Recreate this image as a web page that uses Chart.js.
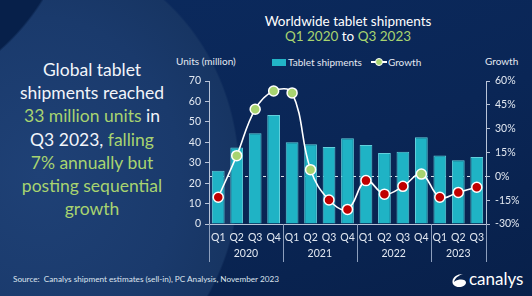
<!DOCTYPE html>
<html>
<head>
<meta charset="utf-8">
<script src="https://cdn.jsdelivr.net/npm/chart.js@4/dist/chart.umd.min.js"></script>
<style>
  html, body { margin: 0; padding: 0; }
  body { width: 532px; height: 296px; overflow: hidden; font-family: Lato, 'Open Sans', sans-serif; }
  #wrap {
    position: relative; width: 532px; height: 296px; overflow: hidden;
    background:
      radial-gradient(circle 228px at -150px -120px, #07204a 99%, transparent 100%),
      radial-gradient(ellipse 200px 225px at 40px 175px, #1f4176 0%, #1a3a6c 70%, #173563 99%, transparent 100%),
      linear-gradient(160deg, #0b2a5e 0%, #0a2656 55%, #08204a 100%);
  }
  canvas { position: absolute; left: 0; top: 0; }
  .t { position: absolute; white-space: nowrap; color: #fff; }
  .g { color: #a8d470; }
  #blurb { left: 0; width: 184px; top: 58px; text-align: center; font-size: 17.5px; line-height: 23.2px; color: #f2f5fa; }
  #title { left: 248px; width: 200px; top: 14px; text-align: center; font-size: 13.5px; line-height: 15px; }
  #units { left: 176px; top: 55px; font-size: 10px; color: #e4e9f2; }
  #growthLbl { left: 485px; top: 55px; font-size: 10px; color: #e4e9f2; }
  #legend { left: 272px; top: 55px; font-size: 10px; color: #e4e9f2; }
  #legend span { display: inline-block; vertical-align: middle; }
  .box { width: 14px; height: 7px; background: #22b4c6; margin-right: 2px; }
  .lm { position: relative; width: 16px; height: 10px; margin-left: 9px; margin-right: 1px; }
  .lm i { position: absolute; left: 0; top: 4px; width: 16px; height: 1.5px; background: #fff; }
  .lm b { position: absolute; left: 4px; top: 1px; width: 6px; height: 6px; border-radius: 50%; background: #a8d470; border: 1.5px solid #fff; }
  #source { left: 13px; top: 274px; font-size: 8.2px; color: #dde4ee; }
  #logo { left: 452px; top: 268px; font-size: 17px; color: #fff; }
  #logo svg { vertical-align: -2px; margin-right: 3px; }
</style>
</head>
<body>
<div id="wrap">
  <div class="t" id="blurb">Global tablet<br>shipments reached<br><span class="g">33 million units</span> in<br>Q3 2023, <span class="g">falling</span><br><span class="g">7% annually but</span><br><span class="g">posting sequential</span><br><span class="g">growth</span></div>
  <div class="t" id="title">Worldwide tablet shipments<br><span class="g">Q1 2020</span> to <span class="g">Q3 2023</span></div>
  <div class="t" id="units">Units (million)</div>
  <div class="t" id="legend"><span class="box"></span><span>Tablet shipments</span><span class="lm"><i></i><b></b></span><span>Growth</span></div>
  <div class="t" id="growthLbl">Growth</div>
  <div class="t" id="source">Source:&nbsp; Canalys shipment estimates (sell-in), PC Analysis, November 2023</div>
  <div class="t" id="logo"><svg width="14" height="13" viewBox="0 0 14 13"><path d="M11 0 C5 0 1 3 0.5 7 C0 10.5 3 13 7 13 C11 13 14 11 14 8.5 C14 6 11 5 7.5 5.5 C5 6 3 7 2 8 C3 4 6.5 1.5 11 0 Z" fill="#fff"/></svg>canalys</div>
  <canvas id="chart" width="532" height="296"></canvas>
</div>
<script>
const quarters = ['Q1','Q2','Q3','Q4','Q1','Q2','Q3','Q4','Q1','Q2','Q3','Q4','Q1','Q2','Q3'];
const years = ['2020','2020','2020','2020','2021','2021','2021','2021','2022','2022','2022','2022','2023','2023','2023'];
const shipments = [26.1, 37.4, 44.4, 53.3, 40.0, 39.0, 37.7, 42.0, 38.7, 34.8, 35.4, 42.5, 33.5, 31.2, 32.8];
const growth = [-13.2, 13.0, 42.2, 53.7, 52.5, 4.2, -14.9, -20.8, -2.7, -11.2, -6.3, 1.4, -13.2, -10.1, -6.9];
const unitTicks = [0, 70, 10];
const growthTicks = [-30, 60, 15];

// year groups: first index and last index of each year
const yearGroups = [];
years.forEach((y, i) => {
    const last = yearGroups[yearGroups.length - 1];
    if (last && last.year === y) last.end = i;
    else yearGroups.push({ year: y, start: i, end: i });
});

const axisColor = '#b9c4d8';
const tickFont = { family: 'Lato, "Open Sans", sans-serif', size: 10.5 };
const tickColor = '#e2e8f1';

// vertical lines between the year groups
const separators = {
    id: 'separators',
    afterDraw(chart) {
        const x = chart.scales.x;
        const x2 = chart.scales.x2;
        const c = chart.ctx;
        c.save();
        c.strokeStyle = '#8d9fbd';
        c.lineWidth = 1;
        const bounds = yearGroups.map(g => g.start - 0.5).concat([years.length - 0.5]);
        bounds.forEach(v => {
            const px = Math.round(x.getPixelForValue(v)) + 0.5;
            c.beginPath();
            c.moveTo(px, x.top);
            c.lineTo(px, x2.bottom - 4);
            c.stroke();
        });
        c.restore();
    }
};

function fixWidth(w) {
    return s => { s.width = w; s.paddingTop = 0; s.paddingBottom = 0; };
}
function fixHeight(h) {
    return s => { s.height = h; s.paddingLeft = 0; s.paddingRight = 0; };
}

new Chart(document.getElementById('chart').getContext('2d'), {
    type: 'bar',
    data: {
        labels: quarters,
        datasets: [{
            type: 'line',
            label: 'Growth',
            data: growth,
            yAxisID: 'y1',
            borderColor: '#ffffff',
            borderWidth: 1.6,
            tension: 0.4,
            pointRadius: 5,
            pointBorderWidth: 1.5,
            pointBorderColor: '#ffffff',
            pointBackgroundColor: growth.map(v => v < 0 ? '#c00000' : '#a8d470'),
            order: 0
        }, {
            label: 'Tablet shipments',
            data: shipments,
            yAxisID: 'y',
            backgroundColor: '#1fb3c5',
            borderColor: '#62cfdc',
            borderWidth: 1,
            categoryPercentage: 0.69,
            barPercentage: 1,
            order: 1
        }]
    },
    options: {
        responsive: false,
        animation: false,
        layout: { padding: { left: 180, right: 10, top: 81, bottom: 30 } },
        plugins: { legend: { display: false }, tooltip: { enabled: false } },
        scales: {
            x: {
                weight: 0,
                afterFit: fixHeight(22),
                grid: { display: false, drawTicks: false },
                border: { display: true, color: axisColor, width: 1 },
                ticks: { color: tickColor, font: tickFont, padding: 7, maxRotation: 0, autoSkip: false }
            },
            x2: {
                type: 'linear',
                position: 'bottom',
                weight: 1,
                offset: false,
                min: -0.5,
                max: years.length - 0.5,
                afterFit: fixHeight(20),
                afterBuildTicks: s => { s.ticks = yearGroups.map(g => ({ value: (g.start + g.end) / 2 })); },
                grid: { display: false, drawTicks: false, offset: false },
                border: { display: false },
                ticks: {
                    color: tickColor, font: tickFont, padding: 1, maxRotation: 0, autoSkip: false,
                    callback: (v) => (yearGroups.find(g => (g.start + g.end) / 2 === v) || {}).year
                }
            },
            y: {
                position: 'left',
                min: unitTicks[0], max: unitTicks[1],
                afterFit: fixWidth(29),
                grid: { drawOnChartArea: false, color: axisColor, tickLength: 4 },
                border: { color: axisColor },
                ticks: { stepSize: unitTicks[2], color: tickColor, font: tickFont, padding: 4 }
            },
            y1: {
                position: 'right',
                min: growthTicks[0], max: growthTicks[1],
                afterFit: fixWidth(36),
                grid: {
                    color: c => c.tick && c.tick.value === 0 ? 'rgba(255,255,255,0.85)' : 'rgba(0,0,0,0)',
                    tickColor: axisColor,
                    tickLength: 4,
                    lineWidth: 1
                },
                border: { color: axisColor, dash: [3, 3] },
                ticks: { stepSize: growthTicks[2], color: tickColor, font: tickFont, padding: 5, callback: v => v + '%' }
            }
        }
    },
    plugins: [separators]
});
</script>
</body>
</html>
